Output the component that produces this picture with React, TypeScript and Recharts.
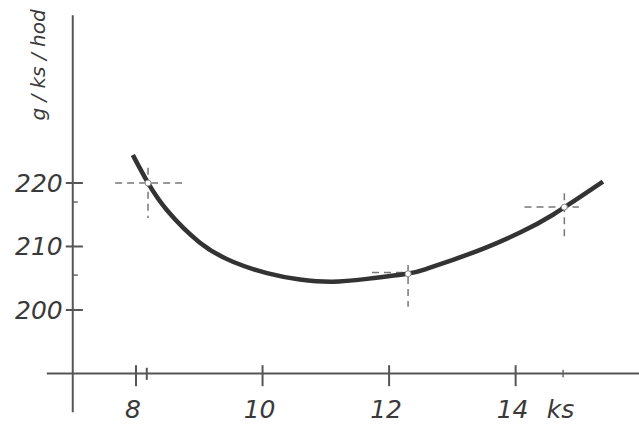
import React from 'react';
import { ComposedChart, Line, Scatter, XAxis, YAxis, ReferenceLine } from 'recharts';

const curveX = [7.95, 8.19, 8.49, 9.01, 9.53, 10.07, 10.59, 11.11, 11.65, 12.28, 12.6, 13.01, 13.55, 14.07, 14.59, 15.38];
const curveY = [224.4, 220.0, 215.7, 210.6, 207.6, 205.8, 204.8, 204.45, 204.9, 205.7, 206.5, 207.9, 209.9, 212.2, 215.0, 220.2];
const pointX = [8.19, 12.3, 14.77];
const pointY = [220.0, 205.7, 216.2];
const xTicks = [8, 10, 12, 14];
const yTicks = [200, 210, 220];
const xUnit = 'ks';
const yUnit = 'g / ks / hod';

const curve = curveX.map((x, i) => ({ x, y: curveY[i] }));
const points = pointX.map((x, i) => ({ x, y: pointY[i] }));

const AXIS_X = 7;
const AXIS_Y = 190;
const INK = '#3a3a3a';
const FONT = '"DejaVu Sans", sans-serif';

const xLabelData = xTicks.map((t) => ({ x: t, y: AXIS_Y, label: String(t) }));
const yLabelData = yTicks.map((t) => ({ x: AXIS_X, y: t, label: String(t) }));

const XLabelShape = (p: any) => (
  <g>
    <text x={p.cx - 3} y={p.cy + 45} textAnchor="middle" fontFamily={FONT} fontStyle="italic" fontSize={25} fill={INK}>
      {p.payload.label}
    </text>
    {p.payload.x === 14 && (
      <text x={p.cx + 45} y={p.cy + 45} textAnchor="middle" fontFamily={FONT} fontStyle="italic" fontSize={25} fill={INK}>
        {xUnit}
      </text>
    )}
  </g>
);

const YLabelShape = (p: any) => (
  <text x={p.cx - 10} y={p.cy + 9} textAnchor="end" fontFamily={FONT} fontStyle="italic" fontSize={25} fill={INK}>
    {p.payload.label}
  </text>
);

const dash = '7 5';

export default function App() {
  return (
    <div style={{ position: 'absolute', left: 0, top: 0, background: '#fff' }}>
      <ComposedChart width={639} height={427} margin={{ top: 0, right: 0, bottom: 0, left: 0 }}>
        <XAxis type="number" dataKey="x" domain={[5.85, 15.95]} allowDataOverflow hide />
        <YAxis type="number" dataKey="y" domain={[181.57, 248.82]} allowDataOverflow hide />
        {/* axes */}
        <ReferenceLine segment={[{ x: AXIS_X, y: 183.9 }, { x: AXIS_X, y: 246.4 }]} stroke="#555" strokeWidth={2} />
        <ReferenceLine segment={[{ x: 6.59, y: AXIS_Y }, { x: 15.95, y: AXIS_Y }]} stroke="#555" strokeWidth={2} />
        {yTicks.map((t) => (
          <ReferenceLine key={'yt' + t} segment={[{ x: 6.89, y: t }, { x: 7.16, y: t }]} stroke="#555" strokeWidth={2} />
        ))}
        <ReferenceLine segment={[{ x: AXIS_X, y: 217 }, { x: 7.08, y: 217 }]} stroke="#666" strokeWidth={1.5} />
        <ReferenceLine segment={[{ x: AXIS_X, y: 205.5 }, { x: 7.08, y: 205.5 }]} stroke="#666" strokeWidth={1.5} />
        {xTicks.map((t) => (
          <ReferenceLine key={'xt' + t} segment={[{ x: t, y: 191.3 }, { x: t, y: 188.0 }]} stroke="#555" strokeWidth={2} />
        ))}
        <ReferenceLine segment={[{ x: 8.17, y: 190.9 }, { x: 8.17, y: 189.0 }]} stroke="#555" strokeWidth={2} />
        <ReferenceLine segment={[{ x: 14.75, y: 190.6 }, { x: 14.75, y: 189.4 }]} stroke="#666" strokeWidth={1.5} />
        {/* crosshairs */}
        <ReferenceLine segment={[{ x: 7.67, y: 220 }, { x: 8.73, y: 220 }]} stroke="#777" strokeWidth={1.5} strokeDasharray={dash} />
        <ReferenceLine segment={[{ x: 8.19, y: 222.4 }, { x: 8.19, y: 214.5 }]} stroke="#777" strokeWidth={1.5} strokeDasharray={dash} />
        <ReferenceLine segment={[{ x: 11.73, y: 205.9 }, { x: 12.45, y: 205.9 }]} stroke="#777" strokeWidth={1.5} strokeDasharray={dash} />
        <ReferenceLine segment={[{ x: 12.3, y: 207.1 }, { x: 12.3, y: 200.5 }]} stroke="#777" strokeWidth={1.5} strokeDasharray={dash} />
        <ReferenceLine segment={[{ x: 14.14, y: 216.2 }, { x: 15.0, y: 216.2 }]} stroke="#777" strokeWidth={1.5} strokeDasharray={dash} />
        <ReferenceLine segment={[{ x: 14.77, y: 218.4 }, { x: 14.77, y: 211.3 }]} stroke="#777" strokeWidth={1.5} strokeDasharray={dash} />
        <Line data={curve} dataKey="y" type="natural" stroke="#333" strokeWidth={4.5} dot={false} isAnimationActive={false} />
        <Scatter data={points} dataKey="y" isAnimationActive={false}
          shape={(p: any) => <circle cx={p.cx} cy={p.cy} r={3} fill="#fff" stroke="#888" strokeWidth={1} />} />
        <Scatter data={xLabelData} dataKey="y" isAnimationActive={false} shape={XLabelShape} />
        <Scatter data={yLabelData} dataKey="y" isAnimationActive={false} shape={YLabelShape} />
        <text x={45} y={65} transform="rotate(-90 45 65)" textAnchor="middle" fontFamily={FONT} fontStyle="italic" fontSize={20} fill={INK}>
          {yUnit}
        </text>
      </ComposedChart>
    </div>
  );
}
